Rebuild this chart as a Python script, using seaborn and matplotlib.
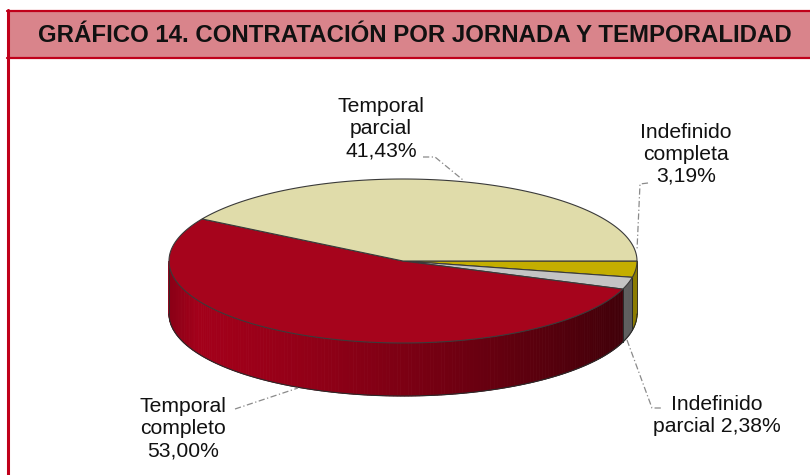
import numpy as np
import matplotlib
matplotlib.use("Agg")
import matplotlib.pyplot as plt
import matplotlib.colors as mcolors
from matplotlib.patches import Polygon, Rectangle
import seaborn as sns

# ---- data ----
categories = ["Indefinido completa", "Indefinido parcial", "Temporal completo", "Temporal parcial"]
values = [3.19, 2.38, 53.00, 41.43]
label_texts = ["Indefinido\ncompleta\n3,19%", "Indefinido\nparcial 2,38%",
               "Temporal\ncompleto\n53,00%", "Temporal\nparcial\n41,43%"]
title = "GRÁFICO 14. CONTRATACIÓN POR JORNADA Y TEMPORALIDAD"

# ---- style ----
sns.set_theme(style="white")
plt.rcParams["font.family"] = ["Liberation Sans", "DejaVu Sans"]

top_colors = sns.color_palette(["#C4AE00", "#C4C4C4", "#A6041C", "#E0DCAA"])
side_colors = ["#8C7C00", "#5E5E5E", None, "#B0AC80"]

fig = plt.figure(figsize=(8.1, 4.75), dpi=100)
ax = fig.add_axes([0, 0, 1, 1])
ax.set_xlim(0, 810)
ax.set_ylim(475, 0)
ax.axis("off")

# frame and title bar
ax.add_patch(Rectangle((7, 10), 820, 49, facecolor="#D9848B", edgecolor="none", zorder=1))
ax.plot([7, 810], [11, 11], color="#C0001A", lw=1.6, zorder=2)
ax.plot([7, 810], [58, 58], color="#C0001A", lw=1.6, zorder=2)
ax.plot([8, 8], [10, 475], color="#C0001A", lw=2.2, zorder=2)
ax.text(415, 35, title, ha="center", va="center", fontsize=17.3, fontweight="bold",
        color="#111111", zorder=3)

# pie geometry
cx, cy, a, b, depth = 403, 261, 234, 82, 53

def ell(t):
    return cx + a * np.cos(t), cy - b * np.sin(t)

fracs = np.array(values) / np.sum(values)
ends = -np.cumsum(fracs) * 2 * np.pi
starts = np.concatenate([[0.0], ends[:-1]])

red_dark = np.array(mcolors.to_rgb("#3C0008"))
red_light = np.array(mcolors.to_rgb("#A3001A"))

def side_color(i, xm):
    if side_colors[i] is not None:
        return side_colors[i]
    t = np.clip((xm - (cx - a)) / (2 * a), 0, 1)
    if t < 0.06:
        c = red_light * (0.85 + 0.15 * t / 0.06)
    else:
        tt = (t - 0.06) / 0.94
        c = red_light + (red_dark - red_light) * tt ** 1.3
    return tuple(c)

# sides (front half only: angles between -pi and 0)
for i, (s, e) in enumerate(zip(starts, ends)):
    lo, hi = max(e, -np.pi), min(s, 0.0)
    if lo >= hi:
        continue
    n = max(2, int((hi - lo) / (2 * np.pi) * 400))
    edges = np.linspace(hi, lo, n + 1)
    for k in range(n):
        tt = np.linspace(edges[k], edges[k + 1], 6)
        x, y = ell(tt)
        pts = np.column_stack([np.r_[x, x[::-1]], np.r_[y, (y + depth)[::-1]]])
        col = side_color(i, x.mean())
        ax.add_patch(Polygon(pts, closed=True, facecolor=col, edgecolor=col, lw=0.6, zorder=4))
    tt = np.linspace(hi, lo, 100)
    x, y = ell(tt)
    ax.plot(x, y + depth, color="#2A2A2A", lw=0.8, zorder=5)
    for t0 in (hi, lo):
        x0, y0 = ell(t0)
        ax.plot([x0, x0], [y0, y0 + depth], color="#2A2A2A", lw=0.6, zorder=5)

# top faces
for i, (s, e) in enumerate(zip(starts, ends)):
    tt = np.linspace(s, e, max(3, int(abs(e - s) * 80)))
    x, y = ell(tt)
    pts = np.column_stack([np.r_[cx, x], np.r_[cy, y]])
    ax.add_patch(Polygon(pts, closed=True, facecolor=top_colors[i], edgecolor="#3A3A3A",
                         lw=0.8, zorder=6))

# labels and leader lines
lab_pos = [(686, 154), (717, 416), (183, 429), (381, 129)]
leaders = [
    [(648, 183), (640, 184), (637, 250)],
    [(627, 340), (652, 408), (663, 408)],
    [(235, 409), (298, 388)],
    [(423, 157), (435, 157), (463, 180)],
]
for i in range(len(categories)):
    ax.text(lab_pos[i][0], lab_pos[i][1], label_texts[i], ha="center", va="center",
            fontsize=15.2, linespacing=1.2, color="#111111", zorder=8)
    pts = np.array(leaders[i])
    ax.plot(pts[:, 0], pts[:, 1], color="#8A8A8A", lw=0.9, ls=(0, (5, 2, 1, 2)), zorder=7)

fig.savefig("out.png", dpi=100)
